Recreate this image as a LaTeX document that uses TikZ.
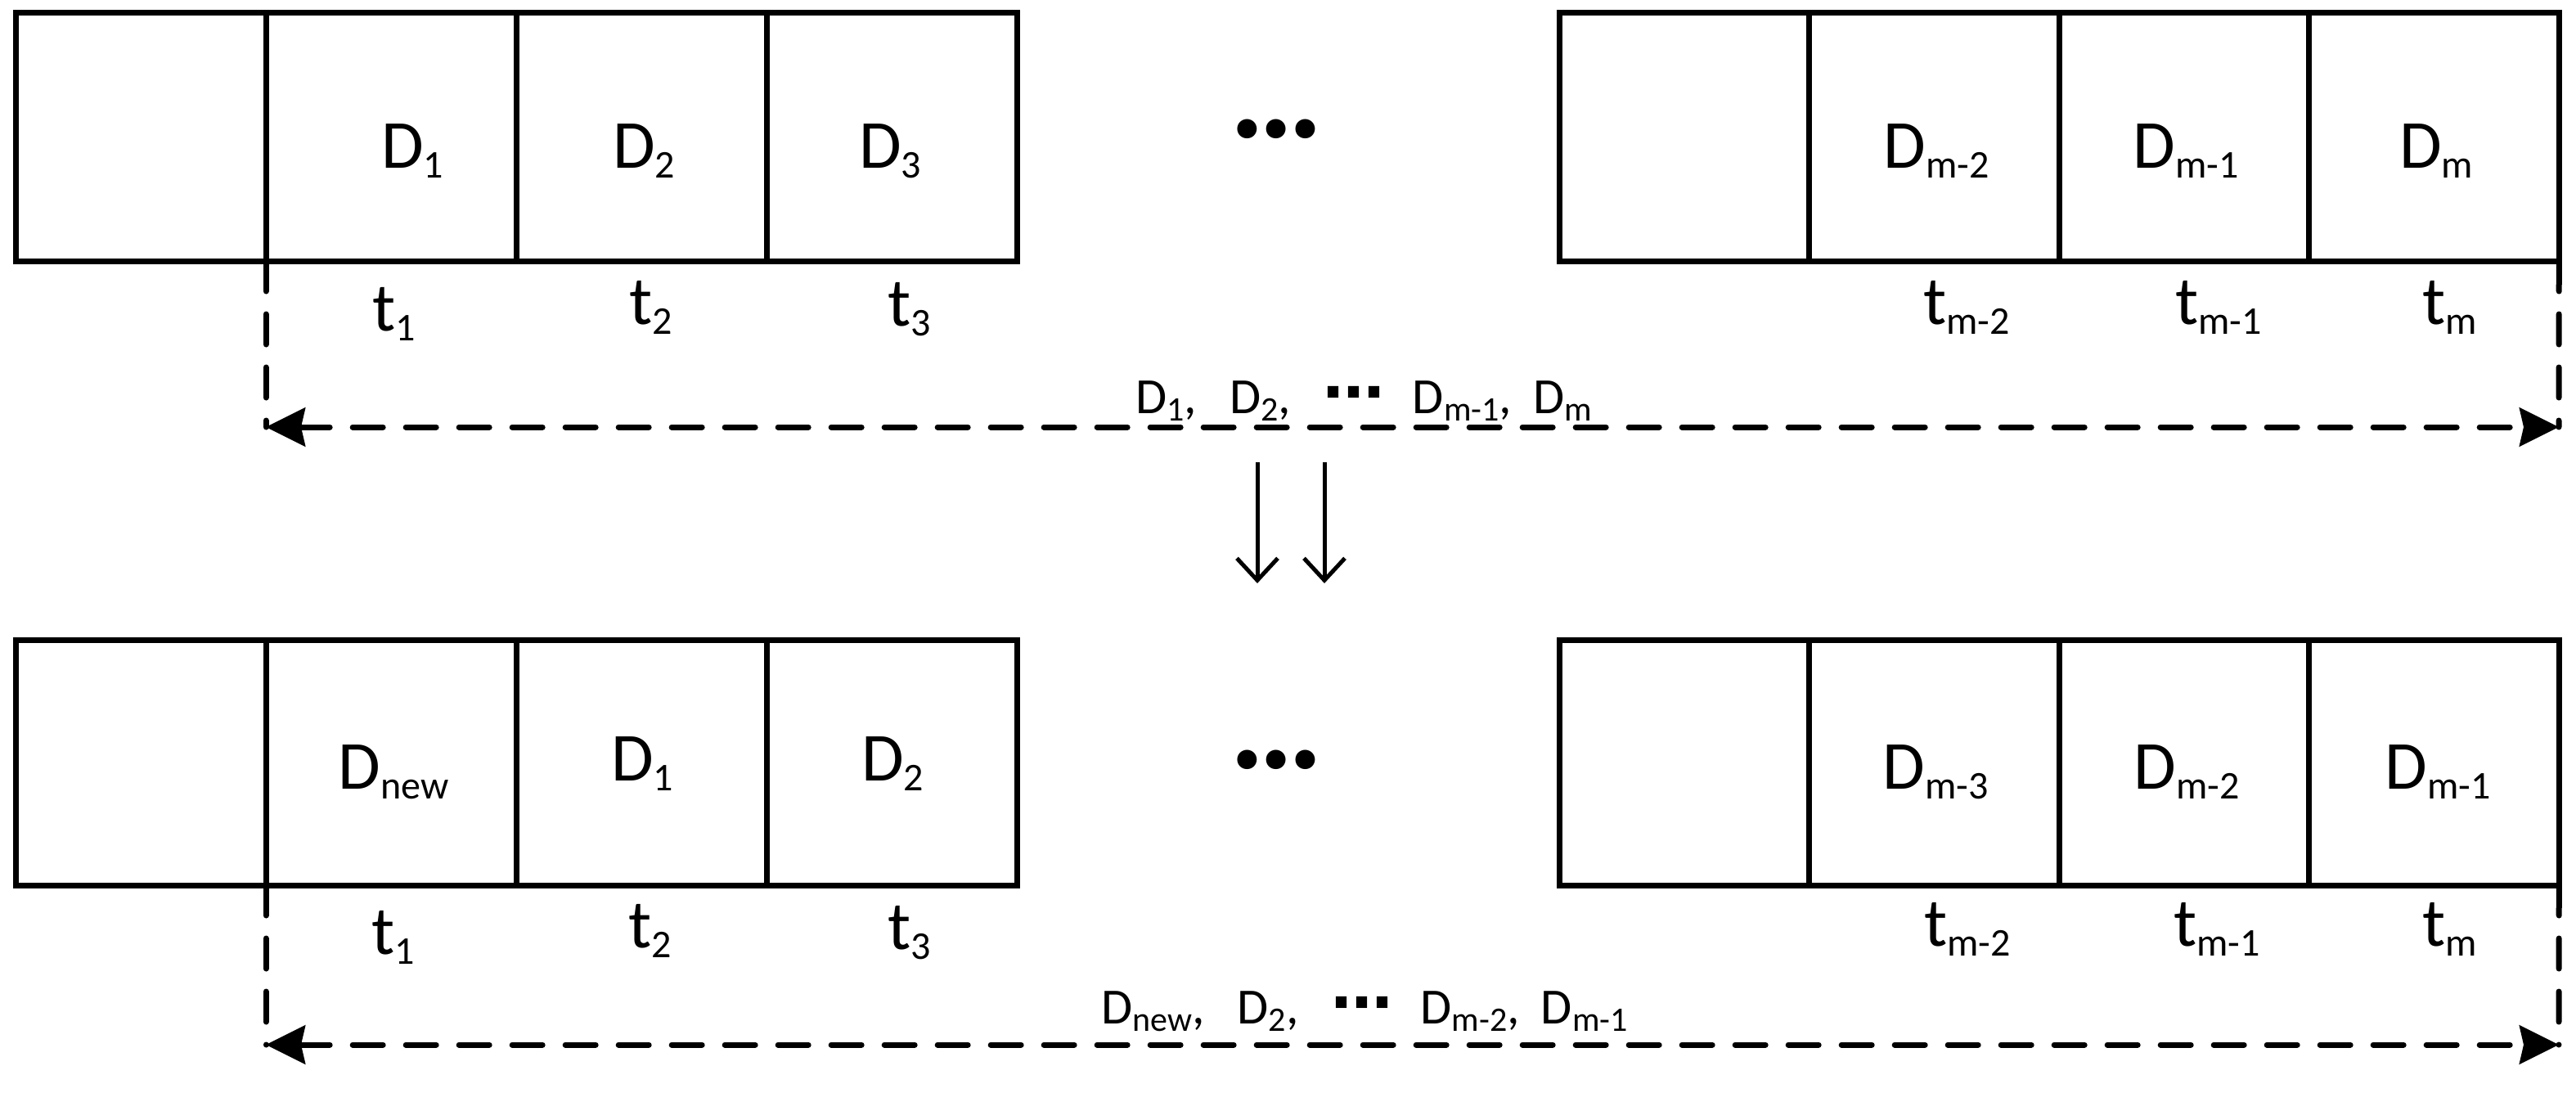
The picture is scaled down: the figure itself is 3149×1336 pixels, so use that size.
\documentclass[tikz,border=0pt]{standalone}
\usepackage{fontspec}
\setmainfont{Carlito}
\newfontfamily\dejavu{DejaVu Sans}
\usetikzlibrary{arrows.meta}
\newcommand{\bigfont}{\fontsize{84}{90}\selectfont}
\newcommand{\smallfont}{\fontsize{62}{66}\selectfont}
\newcommand{\Sb}[1]{\raisebox{-12pt}{\fontsize{48}{50}\selectfont #1}}
\newcommand{\Ss}[1]{\raisebox{-9pt}{\fontsize{42}{44}\selectfont #1}}
\newcommand{\rowdots}{{\fontsize{160}{160}\selectfont\bfseries …}}
\newcommand{\labdots}{{\dejavu\fontsize{75}{75}\selectfont\bfseries ⋯}}
\begin{document}
\begin{tikzpicture}[x=1pt,y=-1pt,
  cell/.style={draw, line width=7pt, minimum width=306pt, inner sep=0pt, outer sep=0pt},
  big/.style={font=\bigfont, anchor=base, inner sep=0pt},
  lab/.style={font=\smallfont, anchor=base, inner sep=0pt},
  dline/.style={line width=7pt, dash pattern=on 37pt off 28pt, line cap=round},
  dhead/.tip={Stealth[length=48pt,width=47pt,inset=5pt]},
  down/.style={line width=5pt, -{Straight Barb[length=27pt,width=50pt]}}]
\useasboundingbox (0,0) rectangle (3149,1336);

% top and bottom row cells
\foreach \i in {0,...,3} {
  \node[cell, minimum height=304pt] (tl\i) at ({172+306*\i},167) {};
  \node[cell, minimum height=304pt, minimum width=305.5pt] (tr\i) at ({2059+305.5*\i},167) {};
  \node[cell, minimum height=300pt] (bl\i) at ({172+306*\i},932) {};
  \node[cell, minimum height=300pt, minimum width=305.5pt] (br\i) at ({2059+305.5*\i},932) {};
}

% top row labels
\node[big] (d1) at (504,205) {D\Sb{1}};
\node[big] (d2) at (787,205) {D\Sb{2}};
\node[big] (d3) at (1088,205) {D\Sb{3}};
\node[big] (dm2) at (2367,205) {D\Sb{m-2}};
\node[big] (dm1) at (2672,205) {D\Sb{m-1}};
\node[big] (dm) at (2978,205) {D\Sb{m}};
\node[inner sep=0pt] (dotsA) at (1560,158) {\rowdots};

\node[big] (t1a) at (482,404) {t\Sb{1}};
\node[big] (t2a) at (796,396) {t\Sb{2}};
\node[big] (t3a) at (1112,398) {t\Sb{3}};
\node[big] (tm2a) at (2404,396) {t\Sb{m-2}};
\node[big] (tm1a) at (2712,396) {t\Sb{m-1}};
\node[big] (tma) at (2995,396) {t\Sb{m}};

% top span arrow
\coordinate (TL) at (325,522);
\coordinate (TR) at (3128,522);
\draw[dline] (tl1.south west) -- (TL);
\draw[dline] (tr3.south east) -- (TR);
\draw[dline, dhead-dhead] (TL) -- (TR);
\node[lab] (spanA) at (1667,505) {D\Ss{1},\hspace{40pt}D\Ss{2},\hspace{40pt}\labdots\hspace{34pt}D\Ss{m-1},\hspace{26pt}D\Ss{m}};

% down arrows
\coordinate (a1s) at (1537,565);
\coordinate (a1e) at (1537,713);
\coordinate (a2s) at (1619,565);
\coordinate (a2e) at (1619,713);
\draw[down] (a1s) -- (a1e);
\draw[down] (a2s) -- (a2e);

% bottom row labels
\node[big] (nD) at (481,964) {D\Sb{new}};
\node[big] (n1) at (785,954) {D\Sb{1}};
\node[big] (n2) at (1091,954) {D\Sb{2}};
\node[big] (nm3) at (2366,964) {D\Sb{m-3}};
\node[big] (nm2) at (2673,964) {D\Sb{m-2}};
\node[big] (nm1) at (2980,964) {D\Sb{m-1}};
\node[inner sep=0pt] (dotsB) at (1560,929) {\rowdots};

\node[big] (t1b) at (481,1166) {t\Sb{1}};
\node[big] (t2b) at (795,1158) {t\Sb{2}};
\node[big] (t3b) at (1112,1160) {t\Sb{3}};
\node[big] (tm2b) at (2405,1156) {t\Sb{m-2}};
\node[big] (tm1b) at (2710,1156) {t\Sb{m-1}};
\node[big] (tmb) at (2995,1156) {t\Sb{m}};

% bottom span arrow
\coordinate (BL) at (325,1277);
\coordinate (BR) at (3128,1277);
\draw[dline] (bl1.south west) -- (BL);
\draw[dline] (br3.south east) -- (BR);
\draw[dline, dhead-dhead] (BL) -- (BR);
\node[lab] (spanB) at (1668,1251) {D\Ss{new},\hspace{40pt}D\Ss{2},\hspace{40pt}\labdots\hspace{34pt}D\Ss{m-2},\hspace{26pt}D\Ss{m-1}};
\end{tikzpicture}
\end{document}
